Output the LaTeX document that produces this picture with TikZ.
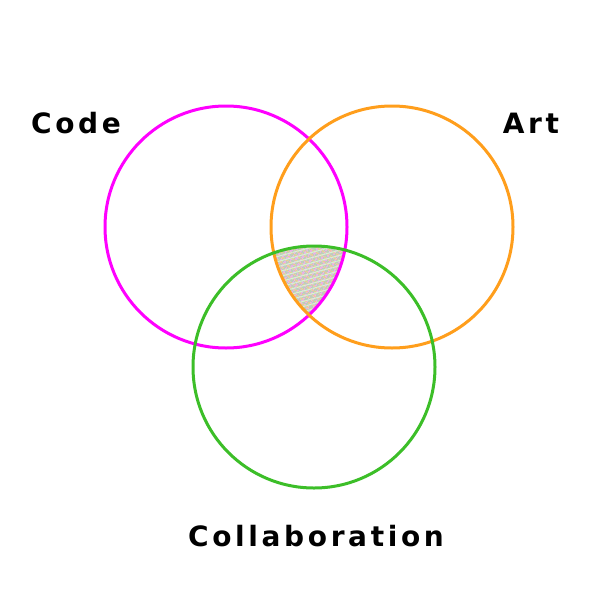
\documentclass[tikz,border=0pt]{standalone}
\usepackage{fontspec}
\newfontfamily\labelfont[LetterSpace=13]{DejaVu Sans Bold}
\usetikzlibrary{patterns.meta}
\definecolor{codecol}{RGB}{255,0,255}
\definecolor{artcol}{RGB}{255,158,28}
\definecolor{collabcol}{RGB}{60,190,40}
\begin{document}
\begin{tikzpicture}[x=1pt,y=-1pt,font=\labelfont\fontsize{28}{33}\selectfont]
			\useasboundingbox (0,0) rectangle (600,600);
			\coordinate (C) at (226,227) ;
			\coordinate (A) at (392,227) ;
			\coordinate (L) at (314,367) ;
			
			\begin{scope}
				\clip (C) circle (121);
				\clip (A) circle (121);
				\fill[collabcol!25!gray!45] (L) circle (121);
				\fill[pattern={Lines[angle=60,distance=4pt,line width=1.2pt]},pattern color=codecol!35] (L) circle (121);
				\fill[pattern={Lines[angle=-30,distance=4pt,line width=1.2pt]},pattern color=artcol!55] (L) circle (121);
				\fill[pattern={Lines[angle=15,distance=5pt,line width=1pt]},pattern color=white!80!collabcol] (L) circle (121);
			\end{scope}
			
			\draw[codecol,line width=3pt] (C) circle (121);
			\draw[artcol,line width=3pt] (A) circle (121);
			\draw[collabcol,line width=3pt] (L) circle (121);
			
			\node (code) [anchor=base] at (76,133) {Code};
			\node (art) [anchor=base] at (531,133) {Art};
			\node (collab) [anchor=base] at (316,546) {Collaboration};
		\end{tikzpicture}
\end{document}
